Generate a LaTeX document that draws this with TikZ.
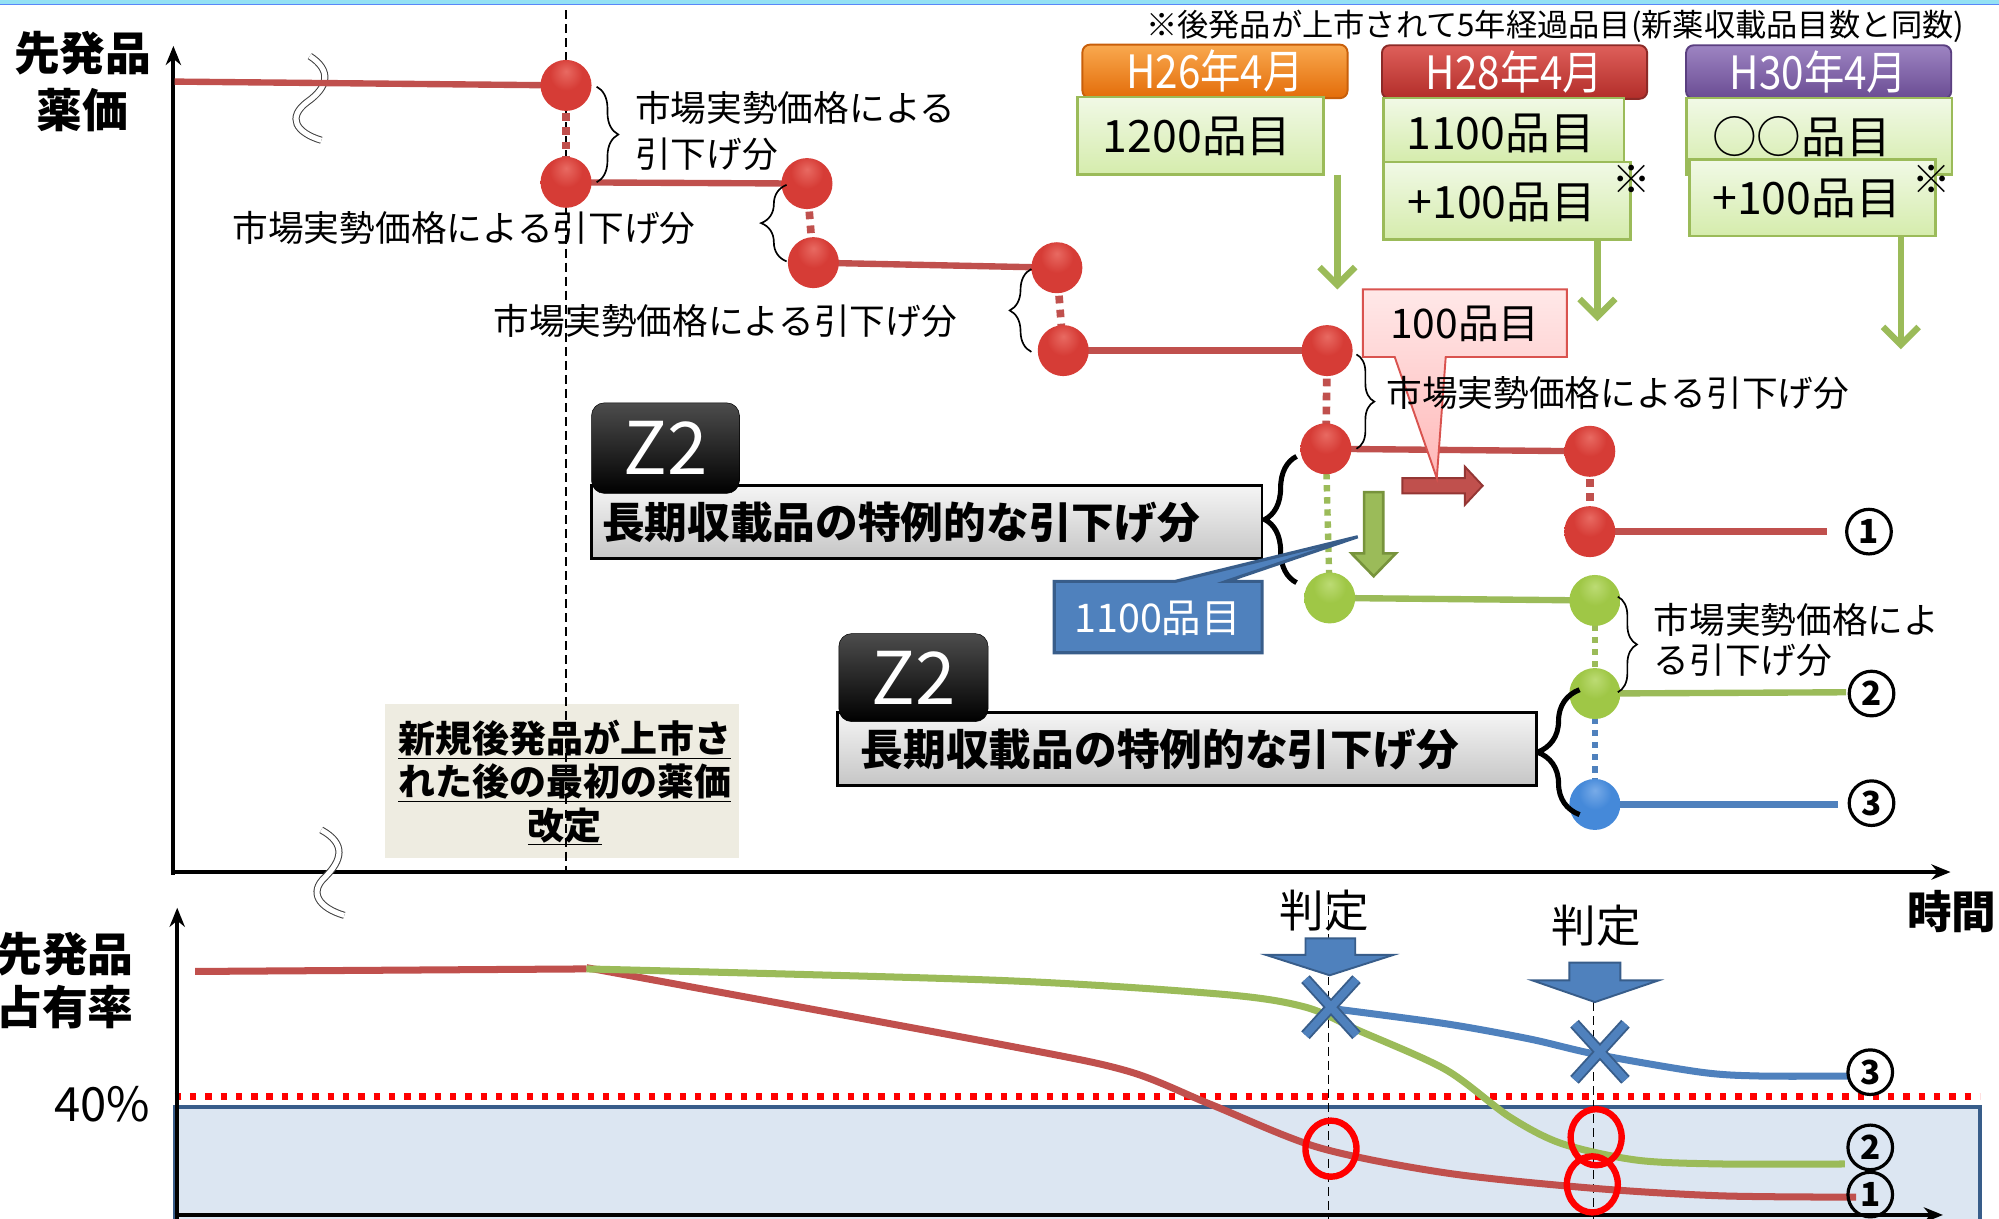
\documentclass[tikz,border=0pt]{standalone}
\usepackage{fontspec}
\setmainfont{Noto Sans CJK JP}
\usetikzlibrary{arrows.meta,decorations.pathreplacing,shapes.geometric}
\newcommand\fsz[2]{\fontsize{#1}{#2}\selectfont}
\definecolor{cred}{HTML}{C0504D}
\definecolor{cgreen}{HTML}{9BBB59}
\definecolor{cblue}{HTML}{4F81BD}
\definecolor{cbluedk}{HTML}{385D8A}
\definecolor{bluefill}{HTML}{DCE6F2}
\definecolor{beige}{HTML}{EEECE1}
\definecolor{olive}{HTML}{77933C}
\definecolor{reddk}{HTML}{943634}
\definecolor{cyanbar}{HTML}{94E1F4}
\definecolor{gtop}{HTML}{F1F9E6}
\definecolor{gbot}{HTML}{D5ECAC}
\definecolor{otop}{HTML}{F9A94F}
\definecolor{obot}{HTML}{E36C09}
\definecolor{obrd}{HTML}{C85F0A}
\definecolor{rtop}{HTML}{DE5F5A}
\definecolor{rbot}{HTML}{B22D29}
\definecolor{rbrd}{HTML}{8C2A27}
\definecolor{ptop}{HTML}{9D84C2}
\definecolor{pbot}{HTML}{6A4C93}
\definecolor{pbrd}{HTML}{5A3F80}
\definecolor{pinktop}{HTML}{FFE8E8}
\definecolor{pinkbot}{HTML}{FFB8B8}
\definecolor{pinkbrd}{HTML}{D9534F}
\definecolor{rhi}{HTML}{E86A62}
\definecolor{rmain}{HTML}{D63C36}
\definecolor{rmid}{HTML}{BA302B}
\definecolor{rdark}{HTML}{8A221E}
\definecolor{ghi}{HTML}{BCDB74}
\definecolor{gmain}{HTML}{9FC746}
\definecolor{gmid}{HTML}{86AA36}
\definecolor{gdark}{HTML}{627F24}
\definecolor{bhi}{HTML}{78ABE8}
\definecolor{bmain}{HTML}{4589D9}
\definecolor{bmid}{HTML}{3872BC}
\definecolor{bdark}{HTML}{28528C}
\pgfdeclareradialshading{rballsh}{\pgfpoint{0bp}{14bp}}{color(0bp)=(rhi); color(16bp)=(rmain); color(32bp)=(rmain); color(46bp)=(rmid); color(58bp)=(rdark); color(75bp)=(rdark)}
\pgfdeclareradialshading{gballsh}{\pgfpoint{0bp}{14bp}}{color(0bp)=(ghi); color(16bp)=(gmain); color(32bp)=(gmain); color(46bp)=(gmid); color(58bp)=(gdark); color(75bp)=(gdark)}
\pgfdeclareradialshading{bballsh}{\pgfpoint{0bp}{14bp}}{color(0bp)=(bhi); color(16bp)=(bmain); color(32bp)=(bmain); color(46bp)=(bmid); color(58bp)=(bdark); color(75bp)=(bdark)}
\begin{document}
\begin{tikzpicture}[x=1pt,y=-1pt,
 sphere/.style={circle, minimum size=40, inner sep=0, shading=#1},
 hline/.style={line width=5, draw=#1},
 vdash/.style={line width=6, draw=#1, dash pattern=on 6 off 5},
 vdot/.style={line width=5, draw=#1, dash pattern=on 5 off 4.5},
 txt/.style={inner sep=0, font=\fsz{28}{36}},
 thinbrace/.style={decorate, decoration={brace, amplitude=#1}, line width=1.3},
 thickbrace/.style={decorate, decoration={brace, amplitude=#1}, line width=4},
 datebox/.style={rounded corners=6, minimum width=208, minimum height=42, inner sep=0, line width=1.5, text=white, font=\fsz{36}{36}},
 gbox/.style={draw=cgreen, line width=2, top color=gtop, bottom color=gbot, inner sep=0},
 graybox/.style={draw=black, line width=2, top color=gray!8, bottom color=gray!45, inner sep=0},
 zbox/.style={rounded corners=10, top color=black!70, bottom color=black, draw=black, inner sep=0, text=white, font=\fsz{57}{57}},
 cnum/.style={circle, draw, line width=2.5, minimum size=35, inner sep=0, font=\fsz{26}{26}\bfseries},
 garrow/.style={draw=cgreen, line width=5, -{Straight Barb[length=14pt,width=28pt]}},
 baxis/.style={line width=3, -{Stealth[length=15pt,width=12pt]}},
 breakmark/.style={draw=black!75, line width=0.8, double=white, double distance=4},
]
\useasboundingbox (0,0) rectangle (1568,956);
\fill[white] (0,0) rectangle (1568,956);
\fill[cyanbar] (0,0) rectangle (1568,3);
\draw[cyanbar!60!blue, line width=1] (0,3.5) -- (1568,3.5);

% ---------- upper chart ----------
\node[fill=beige, minimum width=278, minimum height=121, inner sep=0] (newbox) at (441,612.5) {};
\node[align=center, font=\fsz{29}{34}\bfseries, inner sep=0] (newtxt) at (443,614)
  {\underline{新規後発品が上市さ}\\\underline{れた後の最初の薬価}\\\underline{改定}};

\coordinate (d1t) at (444,8);
\coordinate (d1b) at (444,684);
\draw[line width=1.2, dash pattern=on 7 off 4] (d1t) -- (d1b);

\coordinate (yo) at (136,686);
\coordinate (ytip) at (136,36);
\coordinate (xo) at (134,684);
\coordinate (xtip) at (1530,684);
\draw[baxis] (yo) -- (ytip);
\draw[baxis] (xo) -- (xtip);
\node[inner sep=0, align=center, font=\fsz{36}{44}\bfseries] (ylab1) at (65,64) {先発品\\薬価};

\draw[breakmark] (243,44) .. controls (260,55) and (258,68) .. (241,80) .. controls (225,92) and (232,104) .. (252,110);
\draw[breakmark] (252,651) .. controls (272,662) and (268,675) .. (255,688) .. controls (242,700) and (250,712) .. (270,718);

\coordinate (r0) at (137,64);
\coordinate (c1) at (444,67);
\coordinate (c2) at (444,143);
\coordinate (c3) at (633,144);
\coordinate (c4) at (638,206);
\coordinate (c5) at (829,210);
\coordinate (c6) at (834,275);
\coordinate (c7) at (1041,275);
\coordinate (c8) at (1040,352);
\coordinate (c9) at (1247,354);
\coordinate (c10) at (1247,417);
\coordinate (g1) at (1043,469);
\coordinate (g2) at (1251,471);
\coordinate (g3) at (1251,544);
\coordinate (bl) at (1251,631);
\coordinate (e1) at (1433,417);
\coordinate (e2) at (1448,543);
\coordinate (e3) at (1442,631);

\draw[hline=cred] (r0) -- (c1);
\draw[hline=cred] (c2) -- (c3);
\draw[hline=cred] (c4) -- (c5);
\draw[hline=cred] (c6) -- (c7);
\draw[hline=cred] (c8) -- (c9);
\draw[hline=cred] (c10) -- (e1);
\draw[hline=cgreen] (g1) -- (g2);
\draw[hline=cgreen] (g3) -- (e2);
\draw[hline=cblue] (bl) -- (e3);

\draw[vdash=cred] (c1) -- (c2);
\draw[vdash=cred] (c3) -- (c4);
\draw[vdash=cred] (c5) -- (c6);
\draw[vdash=cred] (c7) -- (c8);
\draw[vdash=cred] (c9) -- (c10);
\draw[vdot=cgreen] (c8) -- (g1);
\draw[vdot=cgreen] (g2) -- (g3);
\draw[vdot=cblue] (g3) -- (bl);

% block arrows
\draw[fill=cred, draw=reddk, line width=1.5] (1100,375) -- (1149,375) -- (1149,366) -- (1163,381) -- (1149,396) -- (1149,387) -- (1100,387) -- cycle;
\draw[fill=cgreen, draw=olive, line width=2] (1070,386) -- (1085,386) -- (1085,434) -- (1095,434) -- (1077.5,452) -- (1060,434) -- (1070,434) -- cycle;

% pink callout
\draw[top color=pinktop, bottom color=pinkbot, draw=pinkbrd, line width=1.5] (1069,227) -- (1229,227) -- (1229,280) -- (1134,280) -- (1127,375) -- (1094,280) -- (1069,280) -- cycle;
\node[inner sep=0, font=\fsz{32}{32}] (t100) at (1149,254) {100品目};

% balls
\node[sphere=rballsh] (b1) at (c1) {};
\node[sphere=rballsh] (b2) at (c2) {};
\node[sphere=rballsh] (b3) at (c3) {};
\node[sphere=rballsh] (b4) at (c4) {};
\node[sphere=rballsh] (b5) at (c5) {};
\node[sphere=rballsh] (b6) at (c6) {};
\node[sphere=rballsh] (b7) at (c7) {};
\node[sphere=rballsh] (b8) at (c8) {};
\node[sphere=rballsh] (b9) at (c9) {};
\node[sphere=rballsh] (b10) at (c10) {};
\node[sphere=gballsh] (bg1) at (g1) {};
\node[sphere=gballsh] (bg2) at (g2) {};
\node[sphere=gballsh] (bg3) at (g3) {};
\node[sphere=bballsh] (bb1) at (bl) {};

% braces & texts
\draw[thinbrace=17] (468,68) -- (468,143);
\draw[thinbrace=20] (617,205) -- (617,145);
\draw[thinbrace=17] (809,276) -- (809,211);
\draw[thinbrace=14] (1064,278) -- (1064,352);
\draw[thinbrace=15] (1269,468) -- (1269,543);
\draw[thickbrace=25] (1017,457) -- (1017,358);
\draw[thickbrace=33] (1239,639) -- (1239,541);

\node[txt, anchor=west, align=left] (tx1) at (498,103) {市場実勢価格による\\引下げ分};
\node[txt] (tx2) at (364,179) {市場実勢価格による引下げ分};
\node[txt] (tx3) at (569,252) {市場実勢価格による引下げ分};
\node[txt] (tx4) at (1269,308) {市場実勢価格による引下げ分};
\node[txt, anchor=west, align=left, font=\fsz{28}{31}] (tx5) at (1297,502) {市場実勢価格によ\\る引下げ分};

% Z2 boxes
\node[graybox, minimum width=526, minimum height=57] (gb1) at (727,409.5) {};
\node[inner sep=0, anchor=west, font=\fsz{33.5}{33.5}\bfseries] (gt1) at (472,410) {長期収載品の特例的な引下げ分};
\node[zbox, minimum width=116, minimum height=71] (z1) at (522,351.5) {Z2};
\node[graybox, minimum width=548, minimum height=57] (gb2) at (931,587.5) {};
\node[inner sep=0, anchor=west, font=\fsz{33.5}{33.5}\bfseries] (gt2) at (675,588) {長期収載品の特例的な引下げ分};
\node[zbox, minimum width=117, minimum height=69] (z2) at (716.5,531.5) {Z2};

% blue callout
\draw[fill=cblue, draw=cbluedk, line width=2.5] (827,456) -- (922,456) -- (1065,421) -- (962,456) -- (990,456) -- (990,512) -- (827,512) -- cycle;
\node[inner sep=0, text=white, font=\fsz{31}{31}] (t1100b) at (908,485) {1100品目};

% circled numbers upper
\node[cnum] (u1) at (1466,417) {1};
\node[cnum] (u2) at (1468,544) {2};
\node[cnum] (u3) at (1468,630) {3};

% top note
\node[inner sep=0, font=\fsz{24.5}{24.5}] (note) at (1220,21) {※後発品が上市されて5年経過品目(新薬収載品目数と同数)};

% date boxes
\node[datebox, top color=otop, bottom color=obot, draw=obrd] (h26) at (953,56) {\scalebox{0.88}[1]{H26年4月}};
\node[datebox, top color=rtop, bottom color=rbot, draw=rbrd] (h28) at (1188,56.5) {\scalebox{0.88}[1]{H28年4月}};
\node[datebox, top color=ptop, bottom color=pbot, draw=pbrd] (h30) at (1426.5,56.5) {\scalebox{0.88}[1]{H30年4月}};

% green boxes
\node[gbox, minimum width=193, minimum height=61] (n1200) at (941.5,106.5) {};
\node[inner sep=0, font=\fsz{35}{35}] (l1200) at (939,107) {1200品目};
\node[gbox, minimum width=189, minimum height=50] (n1100) at (1179.5,102) {};
\node[inner sep=0, font=\fsz{35}{35}] (l1100) at (1177,105) {1100品目};
\node[gbox, minimum width=194, minimum height=61] (p100a) at (1182,157.5) {};
\node[inner sep=0, font=\fsz{35}{35}] (lp100a) at (1178,159) {+100品目};
\node[inner sep=0, font=\fsz{30}{30}] (kome1) at (1280,141) {※};
\node[gbox, minimum width=208, minimum height=60] (noo) at (1427,107) {};
\node[inner sep=0, font=\fsz{35}{35}] (loo) at (1413,107) {○○品目};
\node[gbox, minimum width=193, minimum height=60] (p100b) at (1421.5,155) {};
\node[inner sep=0, font=\fsz{35}{35}] (lp100b) at (1417,156) {+100品目};
\node[inner sep=0, font=\fsz{30}{30}] (kome2) at (1515,141) {※};

% green arrows
\coordinate (a1s) at (1049,137);
\coordinate (a1e) at (1049,227);
\coordinate (a2s) at (1253,188);
\coordinate (a2e) at (1253,252);
\coordinate (a3s) at (1491,186);
\coordinate (a3e) at (1491,274);
\draw[garrow] (a1s) -- (a1e);
\draw[garrow] (a2s) -- (a2e);
\draw[garrow] (a3s) -- (a3e);

% ---------- lower chart ----------
\draw[fill=bluefill, draw=cbluedk, line width=3] (137,868) rectangle (1553,966);
\draw[red, line width=6, dash pattern=on 5 off 7] (137,860) -- (1553,860);

\coordinate (lyo) at (139,958);
\coordinate (lytip) at (139,712);
\coordinate (lxo) at (137,953);
\coordinate (lxtip) at (1524,953);
\draw[baxis] (lyo) -- (lytip);
\draw[baxis] (lxo) -- (lxtip);

\node[inner sep=0, align=center, font=\fsz{36}{42}\bfseries] (ylab2) at (51,769) {先発品\\占有率};
\node[inner sep=0, font=\fsz{37}{37}] (p40) at (80,866) {40\%};
\node[inner sep=0, font=\fsz{35}{35}\bfseries] (jikan) at (1531,715) {時間};

\coordinate (v1t) at (1042,700);
\coordinate (v1b) at (1042,956);
\coordinate (v2t) at (1250,786);
\coordinate (v2b) at (1250,956);
\draw[line width=1.2, dash pattern=on 7 off 4] (v1t) -- (v1b);
\draw[line width=1.2, dash pattern=on 7 off 4] (v2t) -- (v2b);

\node[inner sep=0, font=\fsz{35}{35}] (hantei1) at (1039,714) {判定};
\node[inner sep=0, font=\fsz{35}{35}] (hantei2) at (1252,726) {判定};

\draw[cred, line width=5.5] plot[smooth, tension=0.5] coordinates {(153,762) (460,760)};
\draw[cred, line width=5.5] plot[smooth, tension=0.5] coordinates {(460,759) (784,819) (884,840) (949,866) (1034,900) (1134,920) (1249,932) (1350,938) (1456,939)};
\draw[cgreen, line width=5.5] plot[smooth, tension=0.5] coordinates {(460,760) (784,769) (960,780) (1024,790) (1065,808) (1134,839) (1184,876) (1225,897) (1284,910) (1350,913) (1447,913)};
\draw[cblue, line width=5.5] plot[smooth, tension=0.5] coordinates {(1044,791) (1134,803) (1200,815) (1252,827) (1334,841) (1380,844) (1452,844)};

% blue down arrows
\draw[fill=cblue, draw=cbluedk, line width=1.5] (1024,736) -- (1063,736) -- (1063,749) -- (1093,749) -- (1043,765) -- (993,749) -- (1024,749) -- cycle;
\draw[fill=cblue, draw=cbluedk, line width=1.5] (1231,755) -- (1271,755) -- (1271,769) -- (1301,769) -- (1251,786) -- (1202,769) -- (1231,769) -- cycle;

% X marks
\draw[cbluedk, line width=9] (1024,768) -- (1064,812) (1064,768) -- (1024,812);
\draw[cblue, line width=6] (1024,768) -- (1064,812) (1064,768) -- (1024,812);
\draw[cbluedk, line width=9] (1235,803) -- (1275,847) (1275,803) -- (1235,847);
\draw[cblue, line width=6] (1235,803) -- (1275,847) (1275,803) -- (1235,847);

% red circles
\draw[red, line width=5] (1044,901) ellipse [x radius=20, y radius=22];
\draw[red, line width=5] (1252,892) ellipse [x radius=20, y radius=22];
\draw[red, line width=5] (1249,929) ellipse [x radius=20, y radius=22];

% circled numbers lower
\node[cnum, fill=white] (w3) at (1467,841) {3};
\node[cnum] (w2) at (1467,900) {2};
\node[cnum] (w1) at (1467,937) {1};
\end{tikzpicture}
\end{document}
